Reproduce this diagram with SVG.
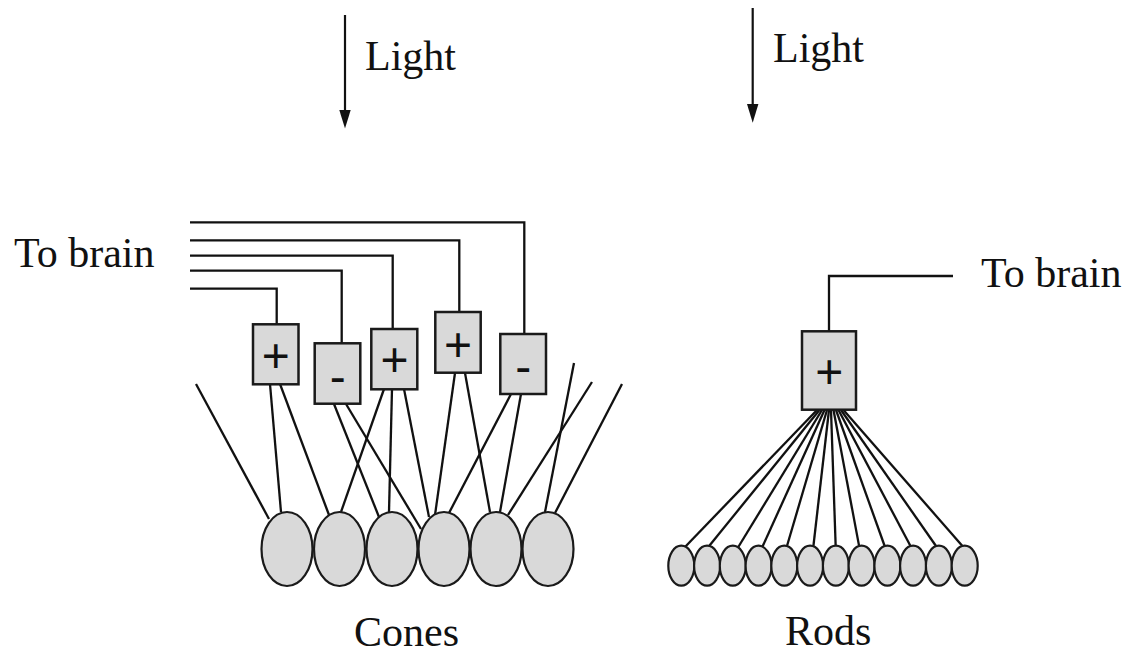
<svg xmlns="http://www.w3.org/2000/svg" width="1129" height="656" viewBox="0 0 1129 656">
<style>
.lbl{font-family:"Liberation Serif","Times New Roman",serif;font-size:42px;fill:#111}
.sym{font-family:"Liberation Sans",Arial,sans-serif;font-size:48px;fill:#111;text-anchor:middle}
.box{fill:#d9d9d9;stroke:#1a1a1a;stroke-width:2.5}
.cell{fill:#d9d9d9;stroke:#1a1a1a;stroke-width:2.2}
.wire{fill:none;stroke:#111;stroke-width:2.3}
</style>
<rect width="1129" height="656" fill="#fff"/>
<g id="light-left">
<line x1="345" y1="15" x2="345" y2="110" stroke="#111" stroke-width="2.2"/>
<path d="M339.3,110 L350.7,110 L345,128.5 Z" fill="#111"/>
<text class="lbl" x="365" y="70">Light</text>
</g>
<g id="light-right">
<line x1="752.7" y1="8" x2="752.7" y2="104" stroke="#111" stroke-width="2.2"/>
<path d="M747,104 L758.4,104 L752.7,122.7 Z" fill="#111"/>
<text class="lbl" x="773" y="62">Light</text>
</g>
<g id="connectors">
<polyline class="wire" points="190,222.3 524.3,222.3 524.3,334"/>
<polyline class="wire" points="190,240.3 459.3,240.3 459.3,312"/>
<polyline class="wire" points="190,255.7 392.7,255.7 392.7,329"/>
<polyline class="wire" points="190,270.7 341.7,270.7 341.7,343.3"/>
<polyline class="wire" points="190,288.7 276.7,288.7 276.7,324.3"/>
<line class="wire" x1="196" y1="384" x2="269" y2="519"/>
<line class="wire" x1="270" y1="384" x2="281" y2="512"/>
<line class="wire" x1="280" y1="384" x2="329" y2="515"/>
<line class="wire" x1="334" y1="404" x2="379" y2="517"/>
<line class="wire" x1="346" y1="404" x2="421" y2="529"/>
<line class="wire" x1="384" y1="389" x2="341" y2="512"/>
<line class="wire" x1="392" y1="389" x2="389" y2="512"/>
<line class="wire" x1="404" y1="389" x2="429" y2="517"/>
<line class="wire" x1="455" y1="373" x2="435" y2="515"/>
<line class="wire" x1="465" y1="373" x2="490" y2="512"/>
<line class="wire" x1="511" y1="394" x2="449" y2="513"/>
<line class="wire" x1="521" y1="394" x2="500" y2="512"/>
<line class="wire" x1="574" y1="363" x2="545" y2="512"/>
<line class="wire" x1="592" y1="382" x2="508" y2="515"/>
<line class="wire" x1="622" y1="384" x2="555" y2="513"/>
<polyline class="wire" points="829,331 829,276 953,276"/>
<line class="wire" x1="817" y1="410" x2="685" y2="547"/>
<line class="wire" x1="819.5" y1="410" x2="708.3" y2="547"/>
<line class="wire" x1="822" y1="410" x2="738.3" y2="547"/>
<line class="wire" x1="824.5" y1="410" x2="762.3" y2="547"/>
<line class="wire" x1="827" y1="410" x2="786.7" y2="547"/>
<line class="wire" x1="829" y1="410" x2="813.3" y2="547"/>
<line class="wire" x1="831" y1="410" x2="835.7" y2="547"/>
<line class="wire" x1="833.5" y1="410" x2="859.3" y2="547"/>
<line class="wire" x1="836" y1="410" x2="885" y2="547"/>
<line class="wire" x1="838.5" y1="410" x2="911" y2="547"/>
<line class="wire" x1="841" y1="410" x2="936.7" y2="547"/>
<line class="wire" x1="843.5" y1="410" x2="963.3" y2="547"/>
</g>
<g id="cone-bipolar-1"><rect class="box" x="253" y="324.3" width="45.5" height="60"/><text class="sym" x="275.8" y="371.5">+</text></g>
<g id="cone-bipolar-2"><rect class="box" x="314.7" y="343.3" width="45.6" height="60.4"/><text class="sym" x="337.8" y="392.5">-</text></g>
<g id="cone-bipolar-3"><rect class="box" x="371.3" y="329" width="46" height="60.3"/><text class="sym" x="394.6" y="376">+</text></g>
<g id="cone-bipolar-4"><rect class="box" x="435.3" y="312" width="45.4" height="60.7"/><text class="sym" x="458" y="360.5">+</text></g>
<g id="cone-bipolar-5"><rect class="box" x="500.3" y="334" width="45.7" height="60"/><text class="sym" x="523.3" y="382.5">-</text></g>
<g id="cones">
<ellipse class="cell" cx="287" cy="549" rx="25.5" ry="37"/>
<ellipse class="cell" cx="339.5" cy="549" rx="25.5" ry="37"/>
<ellipse class="cell" cx="392" cy="549" rx="25.5" ry="37"/>
<ellipse class="cell" cx="444" cy="549" rx="25.5" ry="37"/>
<ellipse class="cell" cx="496" cy="549" rx="25.5" ry="37"/>
<ellipse class="cell" cx="548" cy="549" rx="25.5" ry="37"/>
</g>
<g id="rod-bipolar"><rect class="box" x="802" y="331.3" width="54" height="78.4"/><text class="sym" x="829.2" y="387.5">+</text></g>
<g id="rods">
<ellipse class="cell" cx="681.3" cy="565.7" rx="13" ry="20"/>
<ellipse class="cell" cx="707.1" cy="565.7" rx="13" ry="20"/>
<ellipse class="cell" cx="732.8" cy="565.7" rx="13" ry="20"/>
<ellipse class="cell" cx="758.6" cy="565.7" rx="13" ry="20"/>
<ellipse class="cell" cx="784.3" cy="565.7" rx="13" ry="20"/>
<ellipse class="cell" cx="810.1" cy="565.7" rx="13" ry="20"/>
<ellipse class="cell" cx="835.9" cy="565.7" rx="13" ry="20"/>
<ellipse class="cell" cx="861.6" cy="565.7" rx="13" ry="20"/>
<ellipse class="cell" cx="887.4" cy="565.7" rx="13" ry="20"/>
<ellipse class="cell" cx="913.1" cy="565.7" rx="13" ry="20"/>
<ellipse class="cell" cx="938.9" cy="565.7" rx="13" ry="20"/>
<ellipse class="cell" cx="964.7" cy="565.7" rx="13" ry="20"/>
</g>
<g id="labels">
<text class="lbl" x="14" y="267">To brain</text>
<text class="lbl" x="981" y="287">To brain</text>
<text class="lbl" x="354" y="646">Cones</text>
<text class="lbl" x="785" y="645">Rods</text>
</g>
</svg>
